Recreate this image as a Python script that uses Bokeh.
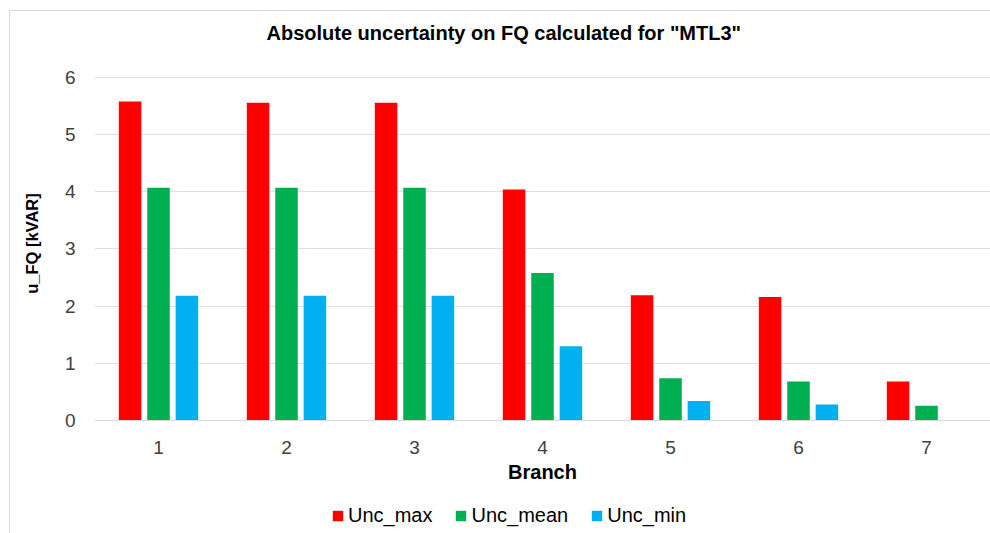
from bokeh.plotting import figure
from bokeh.layouts import column
from bokeh.models import Range1d, FixedTicker, Legend, LegendItem, ColumnDataSource
from bokeh.transform import dodge
from bokeh.embed import file_html
from bokeh.resources import INLINE

branches = [1, 2, 3, 4, 5, 6, 7]
unc_max = [5.58, 5.56, 5.56, 4.04, 2.19, 2.16, 0.68]
unc_mean = [4.07, 4.07, 4.07, 2.58, 0.74, 0.68, 0.26]
unc_min = [2.18, 2.18, 2.18, 1.30, 0.34, 0.28, 0.0]
series_names = ["Unc_max", "Unc_mean", "Unc_min"]
y_ticks = [0, 1, 2, 3, 4, 5, 6]

source = ColumnDataSource(dict(branch=branches, unc_max=unc_max,
                               unc_mean=unc_mean, unc_min=unc_min))

FONT = "Liberation Sans"
LINE = "#d9d9d9"

p = figure(width=990, height=490, output_backend="svg", toolbar_location=None,
           x_range=Range1d(0.5, 7.5), y_range=Range1d(0, 6.192),
           min_border_left=94, min_border_right=0, min_border_top=66,
           min_border_bottom=70)
# chart-area border (left and top) drawn behind a transparent canvas border
p.border_fill_color = None
p.styles = {
    "background-color": "white",
    "background-image": f"linear-gradient({LINE}, {LINE}), linear-gradient({LINE}, {LINE})",
    "background-size": "1px 100%, 100% 1px",
    "background-position": "9px 10px, 9px 10px",
    "background-repeat": "no-repeat",
}

p.title.text = 'Absolute uncertainty on FQ calculated for "MTL3"'
p.title.text_font = FONT
p.title.text_font_size = "20px"
p.title.text_font_style = "bold"
p.title.text_color = "#000000"
p.title.align = "left"
p.title.offset = 172
p.title.vertical_align = "top"
p.title.standoff = 41

colors = ["#FF0000", "#00B050", "#00B0F0"]
cols = ["unc_max", "unc_mean", "unc_min"]
offsets = [-0.222, 0.0, 0.222]
for c, col, off in zip(colors, cols, offsets):
    p.vbar(x=dodge("branch", off, range=p.x_range), top=col, width=0.176,
           bottom=0, source=source, fill_color=c, line_color=None)

p.xgrid.grid_line_color = None
p.ygrid.grid_line_color = "#dedede"
p.ygrid.grid_line_width = 1
p.outline_line_color = None
p.background_fill_color = "white"

p.xaxis.ticker = FixedTicker(ticks=branches)
p.yaxis.ticker = FixedTicker(ticks=y_ticks)
for ax in (p.xaxis[0], p.yaxis[0]):
    ax.major_tick_line_color = None
    ax.minor_tick_line_color = None
    ax.major_label_text_font = FONT
    ax.major_label_text_font_size = "19px"
    ax.major_label_text_color = "#404040"
    ax.axis_label_text_font = FONT
    ax.axis_label_text_font_style = "bold"
    ax.axis_label_text_color = "#000000"
p.yaxis.axis_line_color = None
p.xaxis.axis_line_color = LINE
p.xaxis.axis_label = "Branch"
p.xaxis.axis_label_text_font_size = "20px"
p.xaxis.major_label_standoff = 14
p.xaxis.axis_label_standoff = 4
p.yaxis.axis_label = "u_FQ [kVAR]"
p.yaxis.axis_label_text_font_size = "16.5px"
p.yaxis.major_label_standoff = 13
p.yaxis.axis_label_standoff = 21

# legend strip below the chart
lf = figure(width=990, height=43, output_backend="svg", toolbar_location=None,
            x_range=Range1d(0.5, 7.5), y_range=Range1d(0, 6.192),
            x_axis_type=None, y_axis_type=None,
            min_border_left=0, min_border_right=0, min_border_top=0, min_border_bottom=0)
lf.grid.visible = False
lf.outline_line_color = None
lf.background_fill_color = None
lf.border_fill_color = None
lf.styles = {
    "background-color": "white",
    "background-image": f"linear-gradient({LINE}, {LINE})",
    "background-size": "1px 100%",
    "background-position": "9px 0px",
    "background-repeat": "no-repeat",
}
keys = []
for c, col in zip(colors, cols):
    r = lf.vbar(x="branch", top=col, width=0.176, source=source,
                fill_color=c, line_color=None, visible=False)
    keys.append(r)
legend = Legend(items=[LegendItem(label=n, renderers=[r]) for n, r in zip(series_names, keys)],
                orientation="horizontal", location=(237, 6),
                glyph_width=13, glyph_height=13, label_standoff=4, spacing=22,
                padding=0, margin=0, border_line_alpha=0, background_fill_alpha=0,
                inactive_fill_alpha=0,
                label_text_font=FONT, label_text_font_size="20px",
                label_text_color="#000000")
lf.add_layout(legend, "center")

layout = column(p, lf, spacing=0)
open("out.html", "w").write(file_html(layout, INLINE))
